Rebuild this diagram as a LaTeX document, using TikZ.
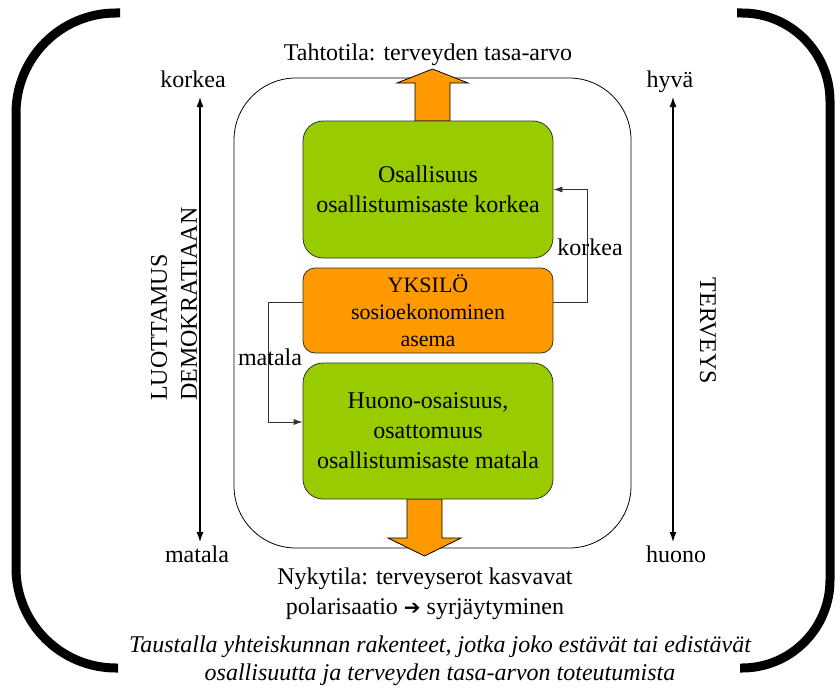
\documentclass[tikz,border=0pt]{standalone}
\usepackage{fontspec}
\setmainfont{Liberation Serif}
\usepackage{tikz}
\usetikzlibrary{positioning}
\usetikzlibrary{arrows}
\usetikzlibrary{arrows.meta}
\definecolor{lehti}{HTML}{99CC00}
\definecolor{oranssi}{HTML}{FF9900}

\begin{document}
\begin{tikzpicture}[x=1pt, y=-1pt,
		txt/.style={font=\fontsize{24}{30}\selectfont, inner sep=0pt},
		laatikko/.style={draw=black!80, line width=0.8pt, rounded corners=20pt, minimum width=250pt, align=center, font=\fontsize{24}{30}\selectfont},
		nuoli/.style={draw=black, line width=0.8pt, fill=oranssi, line join=miter},
		yhteys/.style={draw=black!80, line width=0.8pt, -{Latex[length=9pt,width=6pt]}},
		akseli/.style={line width=1.2pt, {Latex[length=10pt,width=7pt]}-{Latex[length=10pt,width=7pt]}},
		sulku/.style={line width=9pt, line cap=butt}]
				\useasboundingbox (0,0) rectangle (840,693);
				
				% brackets
				\draw[sulku, rounded corners=100pt] (120,13) -- (16,13) -- (16,668) -- (118,668);
				\draw[sulku, rounded corners=88pt] (737,13) -- (830,13) -- (830,668) -- (740,668);
				
				% frame
				\node[draw, line width=0.8pt, rounded corners=62pt, minimum width=397pt, minimum height=470pt] (F) at (432.5,313) {};
				
				% big arrows
				\draw[nuoli] (415,121) -- (415,83) -- (397,83) -- (432.5,69) -- (468,83) -- (450,83) -- (450,121) -- cycle;
				\draw[nuoli] (407,499) -- (407,538) -- (388,538) -- (424.5,556) -- (461,538) -- (442,538) -- (442,499) -- cycle;
				
				\node[laatikko, fill=lehti, minimum height=137pt] (O) at (428,189.5) {Osallisuus\\osallistumisaste korkea};
				\node[laatikko, fill=oranssi, minimum height=85pt, rounded corners=12pt, font=\fontsize{22}{27}\selectfont] (Y) at (428,310.5) {YKSIL\"O\\sosioekonominen\\asema};
				\node[laatikko, fill=lehti, minimum height=136pt] (H) at (428,431) {Huono-osaisuus,\\osattomuus\\osallistumisaste matala};
				
				\draw[yhteys] ([yshift=8pt]Y.east) -- ++(34,0) |- (O.east);
				\draw[yhteys] ([yshift=8pt]Y.west) -- ++(-34,0) |- ([yshift=9pt]H.west);
				\node[txt, anchor=base] (K) at (590,255) {korkea};
				\node[txt, anchor=base] (M) at (270,365) {matala};
				
				% axes
				\node[txt, anchor=base] (L1) at (193,88) {korkea};
				\node[txt, anchor=base] (L2) at (197,562) {matala};
				\node[txt, anchor=base] (R1) at (670,88) {hyv\"a};
				\node[txt, anchor=base] (R2) at (676,562) {huono};
				\coordinate (la) at (200,97);
				\coordinate (lb) at (200,542);
				\coordinate (ra) at (673,97);
				\coordinate (rb) at (673,542);
				\draw[akseli] (la) -- (lb);
				\draw[akseli] (ra) -- (rb);
				\node[txt, rotate=90, align=left] (LD) at (174,304) {LUOTTAMUS\\DEMOKRATIAAN};
				\node[txt, rotate=-90] (T) at (708,331) {TERVEYS};
				
				% texts
				\node[txt, anchor=base] (TT) at (428,60) {Tahtotila: terveyden tasa-arvo};
				\node[txt, anchor=base, align=center] (NT) at (425,614) {Nykytila: terveyserot kasvavat\\polarisaatio {\fontspec{DejaVu Sans}\fontsize{20}{30}\selectfont\char"2794} syrj\"aytyminen};
				\node[txt, anchor=base, align=center, font=\fontsize{24}{28}\itshape] (TA) at (440,680) {Taustalla yhteiskunnan rakenteet, jotka joko est\"av\"at tai edist\"av\"at\\osallisuutta ja terveyden tasa-arvon toteutumista};
			\end{tikzpicture}
\end{document}
